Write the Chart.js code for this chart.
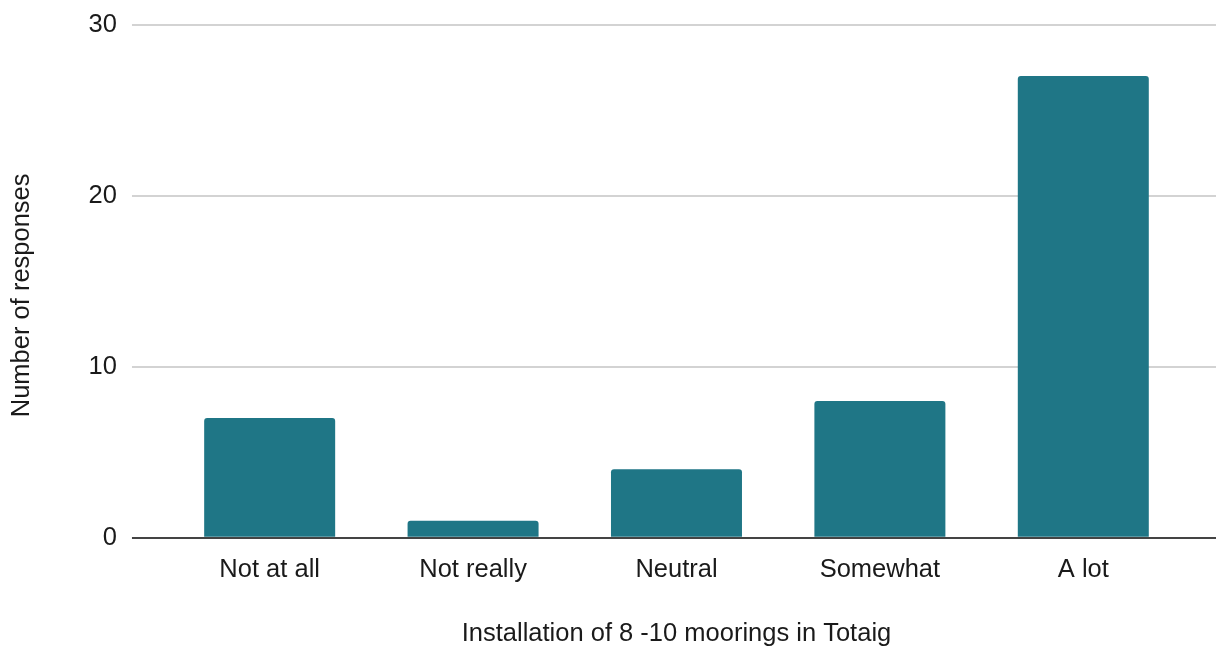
<!DOCTYPE html>
<html>
<head>
<meta charset="utf-8">
<script src="https://cdn.jsdelivr.net/npm/chart.js@4/dist/chart.umd.min.js"></script>
<style>
  html, body { margin: 0; padding: 0; background: #fff; }
</style>
</head>
<body>
<canvas id="chart" width="1216" height="649"></canvas>
<script>
// data
const categories = ['Not at all', 'Not really', 'Neutral', 'Somewhat', 'A lot']
const responses = [7, 1, 4, 8, 27]
const yTicks = [0, 10, 20, 30]

const xTitle = 'Installation of 8 -10 moorings in Totaig'
const yTitle = 'Number of responses'

const barColor = '#1f7686'
const textColor = '#1a1a1a'
const fontFamily = '"Liberation Sans", Arial, sans-serif'

// zero line is dark, the rest light grey
const gridColor = (ctx) => (ctx.tick && ctx.tick.value === 0) ? '#444444' : '#d3d3d3'

new Chart(document.getElementById('chart'), {
  type: 'bar',
  data: {
    labels: categories,
    datasets: [{
      data: responses,
      backgroundColor: barColor,
      borderRadius: 3,
      categoryPercentage: 1,
      barPercentage: 0.644
    }]
  },
  options: {
    responsive: false,
    animation: false,
    devicePixelRatio: 1,
    layout: { padding: { left: 7, top: 23, right: 0, bottom: 0 } },
    plugins: {
      legend: { display: false },
      tooltip: { enabled: false }
    },
    scales: {
      x: {
        grid: { display: false },
        border: { display: false },
        ticks: {
          color: textColor,
          padding: 9,
          font: { family: fontFamily, size: 25.5 }
        },
        title: {
          display: true,
          text: xTitle,
          color: textColor,
          padding: { top: 24, bottom: 0 },
          font: { family: fontFamily, size: 25.5 }
        }
      },
      y: {
        min: 0,
        max: 30,
        afterBuildTicks: (scale) => { scale.ticks = yTicks.map(v => ({ value: v })) },
        border: { display: false },
        grid: { color: gridColor, lineWidth: 2, tickLength: 36 },
        ticks: {
          color: textColor,
          padding: 15,
          font: { family: fontFamily, size: 25.5, lineHeight: 0.75 }
        },
        title: {
          display: true,
          // trailing spaces nudge the title down a little, like the original
          text: yTitle + '\u00a0\u00a0\u00a0\u00a0',
          color: textColor,
          padding: { top: 0, bottom: 36 },
          font: { family: fontFamily, size: 25.5 }
        }
      },
      // only here so the grid lines run on past the last bar
      y2: {
        position: 'right',
        min: 0,
        max: 30,
        afterBuildTicks: (scale) => { scale.ticks = yTicks.map(v => ({ value: v })) },
        border: { display: false },
        grid: { color: gridColor, lineWidth: 2, tickLength: 31, drawOnChartArea: false },
        ticks: { display: false }
      }
    }
  }
})
</script>
</body>
</html>
